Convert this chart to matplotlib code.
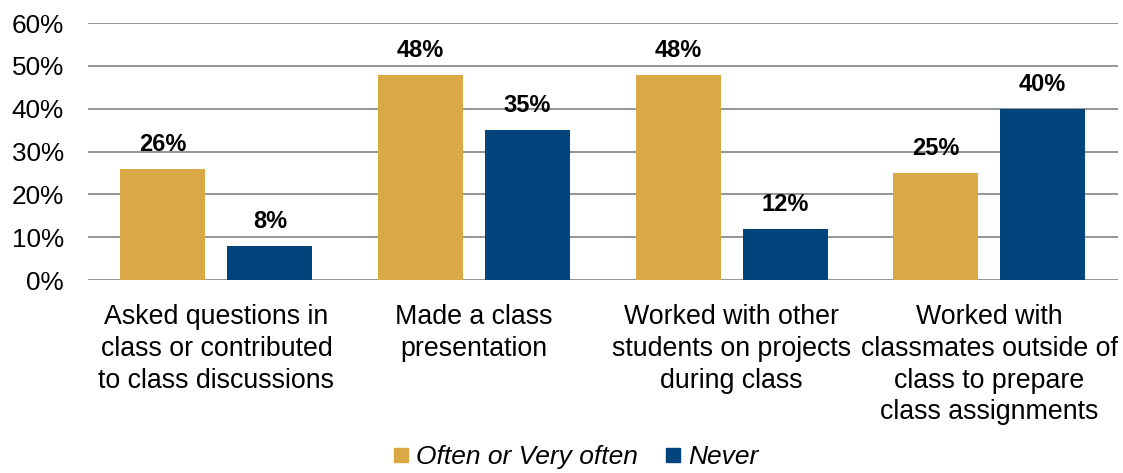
import numpy as np
import matplotlib.pyplot as plt

plt.rcParams['font.family'] = ['Liberation Sans', 'DejaVu Sans']

categories = ['Asked questions in\nclass or contributed\nto class discussions',
              'Made a class\npresentation',
              'Worked with other\nstudents on projects\nduring class',
              'Worked with\nclassmates outside of\nclass to prepare\nclass assignments']
often = [26, 48, 48, 25]
never = [8, 35, 12, 40]
series_names = ['Often or Very often', 'Never']
gold = '#D9A945'
navy = '#00447C'

fig = plt.figure(figsize=(11.23, 4.73), dpi=100)
ax = fig.add_axes([0.078, 0.408, 0.9175, 0.543])

x = np.arange(len(categories))
w = 0.33
off = 0.2075
b1 = ax.bar(x - off, often, w, color=gold, label=series_names[0], zorder=3)
b2 = ax.bar(x + off, never, w, color=navy, label=series_names[1], zorder=3)

for bars in (b1, b2):
    for r in bars:
        ax.text(r.get_x() + r.get_width() / 2, r.get_height() + 3.0, f'{r.get_height():.0f}%',
                ha='center', va='bottom', fontsize=17, fontweight='bold')

ax.set_xlim(-0.5, 3.5)
ax.set_ylim(0, 60)
ax.set_yticks(range(0, 61, 10))
ax.set_yticklabels([f'{v}%' for v in range(0, 61, 10)], fontsize=18.8)
ax.set_xticks(x)
ax.set_xticklabels(categories, fontsize=19.3, va='top', linespacing=1.28)
ax.tick_params(axis='y', length=0, pad=17)
ax.tick_params(axis='x', length=0, pad=17.5)
ax.yaxis.grid(True, color='#8C8C8C', linewidth=1.3, zorder=0)
for s in ax.spines.values():
    s.set_visible(False)

handles = [plt.Line2D([], [], marker='s', linestyle='', markersize=10.5, color=c) for c in (gold, navy)]
fig.legend(handles, series_names, loc='center', bbox_to_anchor=(0.512, 0.033), ncol=2,
           frameon=False, prop={'size': 19, 'style': 'italic'}, handlelength=0.7,
           handletextpad=0.2, columnspacing=1.0)

fig.savefig('out.png', dpi=100)
